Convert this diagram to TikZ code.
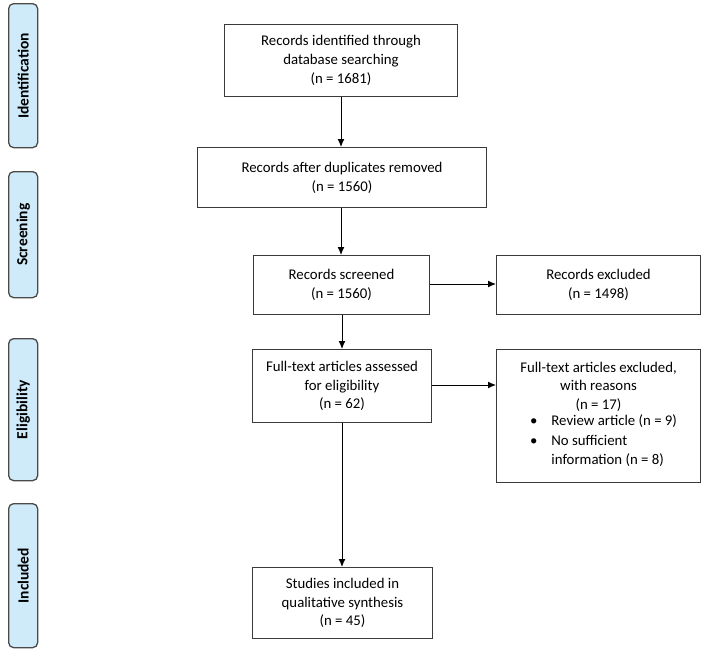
\documentclass[tikz,border=0pt]{standalone}
\usepackage{fontspec}
\setmainfont{Carlito}
\usetikzlibrary{arrows.meta,calc}
\definecolor{barfill}{HTML}{CFEBFA}
\definecolor{barline}{HTML}{4A4A4A}
\definecolor{boxline}{HTML}{3A3A3A}
\tikzset{
  stagebar/.style={draw=barline, line width=1.3pt, fill=barfill, rounded corners=5pt, anchor=north west, inner sep=0pt},
  stagetext/.style={rotate=90, font=\fontsize{15.5}{17}\selectfont\bfseries},
  flowbox/.style={draw=boxline, line width=1pt, fill=white, anchor=north west, inner sep=0pt, align=center, font=\fontsize{14.8}{18.8}\selectfont},
  flowarrow/.style={line width=1pt, -{Latex[length=8pt,width=7pt]}}
}
\begin{document}
\begin{tikzpicture}[x=1pt,y=-1pt]
\useasboundingbox (0,0) rectangle (704,651);
% stage bars
\node[stagebar, minimum width=29, minimum height=144] (sb1) at (8,3) {};
\node[stagetext] at (sb1.center) {Identification};
\node[stagebar, minimum width=29, minimum height=126] (sb2) at (8,171) {};
\node[stagetext] at (sb2.center) {Screening};
\node[stagebar, minimum width=29, minimum height=142] (sb3) at (8,338) {};
\node[stagetext] at (sb3.center) {Eligibility};
\node[stagebar, minimum width=29, minimum height=144] (sb4) at (8,503) {};
\node[stagetext] at (sb4.center) {Included};
% boxes
\node[flowbox, minimum width=233, minimum height=72] (b1) at (224,24) {Records identified through\\database searching\\(n = 1681)};
\node[flowbox, minimum width=289, minimum height=60] (b2) at (197,147) {Records after duplicates removed\\(n = 1560)};
\node[flowbox, minimum width=176, minimum height=59] (b3) at (253,255) {Records screened\\(n = 1560)};
\node[flowbox, minimum width=204, minimum height=59] (b3x) at (496,255) {Records excluded\\(n = 1498)};
\node[flowbox, minimum width=179, minimum height=73] (b4) at (252,349) {Full-text articles assessed\\for eligibility\\(n = 62)};
\node[flowbox, minimum width=204, minimum height=133] (b4x) at (496,349) {Full-text articles excluded,\\with reasons\\(n = 17)\\\hspace*{10pt}\begin{tabular}{@{}l@{\hspace{14pt}}l@{}}\textbullet & Review article (n = 9)\\[0.5pt] \textbullet & No sufficient\\[0.5pt] & information (n = 8)\end{tabular}};
\node[flowbox, minimum width=180, minimum height=71] (b5) at (252,567) {Studies included in\\qualitative synthesis\\(n = 45)};
% arrows
\draw[flowarrow] (b1.south -| 341,0) -- (b2.north -| 341,0);
\draw[flowarrow] (b2.south -| 341,0) -- (b3.north -| 341,0);
\draw[flowarrow] (b3.east |- 0,284) -- (b3x.west |- 0,284);
\draw[flowarrow] (b3.south -| 342,0) -- (b4.north -| 342,0);
\draw[flowarrow] (b4.east |- 0,385) -- (b4x.west |- 0,385);
\draw[flowarrow] (b4.south -| 342,0) -- (b5.north -| 342,0);
\end{tikzpicture}
\end{document}
